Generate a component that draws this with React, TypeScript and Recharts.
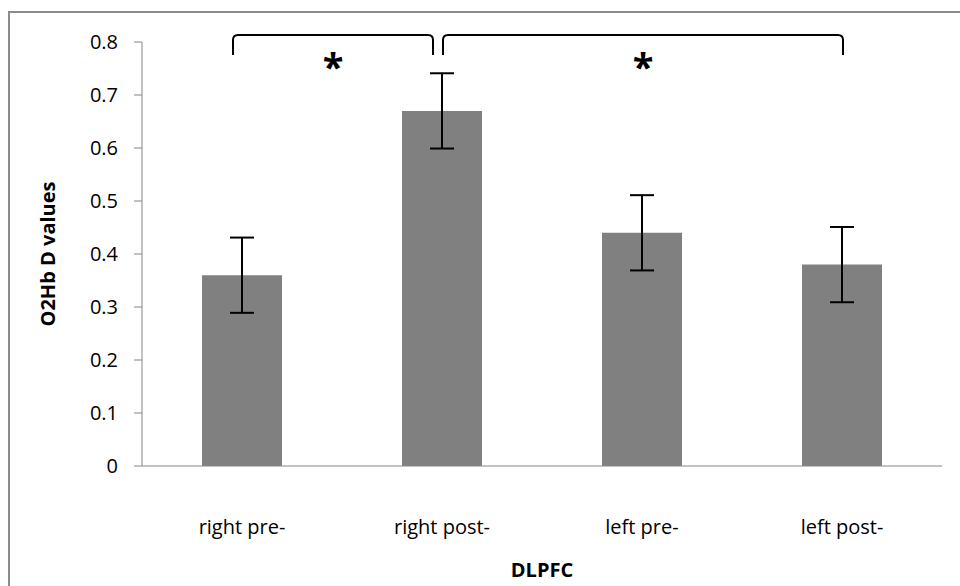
import React from 'react';
import {
  BarChart,
  Bar,
  XAxis,
  YAxis,
  ErrorBar,
  ReferenceLine,
} from 'recharts';

// values
const categories = ['right pre-', 'right post-', 'left pre-', 'left post-'];
const means = [0.36, 0.67, 0.44, 0.38];
const errors = [0.071, 0.071, 0.071, 0.071];
const yTicks = [0, 0.1, 0.2, 0.3, 0.4, 0.5, 0.6, 0.7, 0.8];
const boundaryTicks = [0, 1, 2, 3, 4];

// significance brackets: from category, to category, pixel nudge
const brackets = [
  { from: 'right pre-', to: 'right post-', dx: -9 },
  { from: 'right post-', to: 'left post-', dx: 1 },
];
const bracketTop = 0.813;

const data = categories.map((name, i) => ({ name, value: means[i], err: errors[i] }));

const FONT = '"Open Sans", sans-serif';
const AXIS_GRAY = '#868686';

const BracketShape = (props: any) => {
  const dx = props.dx || 0;
  const x1 = props.x1 + dx;
  const x2 = props.x2 + dx;
  const y = props.y1;
  const drop = 20;
  const r = 5;
  const d = `M${x1},${y + drop} L${x1},${y + r} Q${x1},${y} ${x1 + r},${y} L${x2 - r},${y} Q${x2},${y} ${x2},${y + r} L${x2},${y + drop}`;
  return (
    <g>
      <path d={d} fill="none" stroke="#000" strokeWidth={2} />
      <text
        x={(x1 + x2) / 2}
        y={y + 46}
        textAnchor="middle"
        fontFamily={FONT}
        fontWeight="bold"
        fontSize={38}
        fill="#000"
      >
        *
      </text>
    </g>
  );
};

export default function App() {
  return (
    <div style={{ position: 'fixed', left: 0, top: 0, width: 960, height: 586, background: '#fff', overflow: 'hidden' }}>
      <div
        style={{
          position: 'absolute',
          left: 8,
          top: 11,
          width: 1000,
          height: 700,
          borderLeft: '2px solid #8c8c8c',
          borderTop: '2px solid #8c8c8c',
        }}
      />
      <div style={{ position: 'absolute', left: 0, top: 0 }}>
        <BarChart
          width={960}
          height={586}
          data={data}
          margin={{ top: 42, right: 18, bottom: 0, left: 82 }}
          barCategoryGap={0}
        >
          <XAxis
            xAxisId="a0"
            type="number"
            domain={[0, 4]}
            ticks={boundaryTicks}
            height={8}
            tick={false}
            tickSize={8}
            stroke={AXIS_GRAY}
          />
          <XAxis
            dataKey="name"
            xAxisId="b1"
            height={112}
            axisLine={false}
            tickLine={false}
            tickSize={0}
            tickMargin={46}
            tick={{ fill: '#000', fontSize: 20, fontFamily: FONT }}
            label={{
              value: 'DLPFC',
              position: 'insideBottom',
              offset: 9,
              fill: '#000',
              fontSize: 20,
              fontWeight: 'bold',
              fontFamily: FONT,
            }}
          />
          <YAxis
            domain={[0, 0.8]}
            ticks={yTicks}
            width={60}
            interval={0}
            allowDataOverflow
            stroke={AXIS_GRAY}
            tickSize={8}
            tickMargin={16}
            tickFormatter={(v: number) => (v === 0 ? '0' : String(Number(v.toFixed(1))))}
            tick={{ fill: '#000', fontSize: 20, fontFamily: FONT }}
            label={{
              value: 'O2Hb D values',
              angle: -90,
              position: 'left',
              offset: 34,
              fill: '#000',
              fontSize: 20,
              fontWeight: 'bold',
              fontFamily: FONT,
              style: { textAnchor: 'middle' },
            }}
          />
          <Bar dataKey="value" xAxisId="b1" fill="#808080" barSize={80} isAnimationActive={false}>
            <ErrorBar dataKey="err" width={12} stroke="#000" strokeWidth={2} direction="y" />
          </Bar>
          {brackets.map((b, i) => (
            <ReferenceLine
              key={i}
              xAxisId="b1"
              ifOverflow="visible"
              segment={[
                { x: b.from, y: bracketTop },
                { x: b.to, y: bracketTop },
              ]}
              shape={(p: any) => <BracketShape {...p} dx={b.dx} />}
            />
          ))}
        </BarChart>
      </div>
    </div>
  );
}
